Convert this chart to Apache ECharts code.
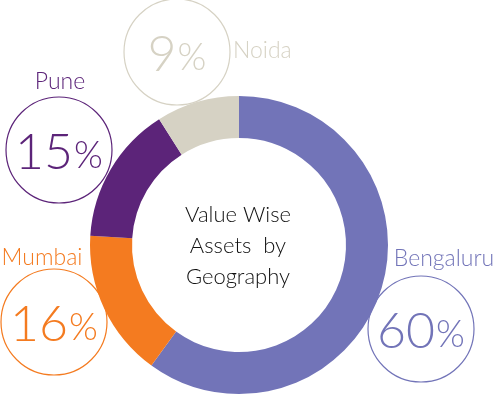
<!DOCTYPE html>
<html><head><meta charset="utf-8">
<script src="https://cdn.jsdelivr.net/npm/echarts@6/dist/echarts.min.js"></script>
<style>html,body{margin:0;padding:0;background:#fff;}#c{width:496px;height:395px;}</style>
</head><body><div id="c"></div>
<script>
const cities = ['Bengaluru', 'Mumbai', 'Pune', 'Noida'];
const shares = [60, 16, 15, 9];
const colors = ['#7274b8', '#f47b20', '#5c2479', '#d6d2c4'];
const centerLines = ['Value Wise', 'Assets  by', 'Geography'];

// label badge layout: circle centre, name position
const badges = [
  {cx: 421, cy: 329, nx: 444, ny: 259, align: 'center'},
  {cx: 54, cy: 322, nx: 42, ny: 258, align: 'center'},
  {cx: 59, cy: 150, nx: 60, ny: 82, align: 'center'},
  {cx: 177, cy: 52, nx: 233, ny: 51, align: 'left'}
];

const chart = echarts.init(document.getElementById('c'), null, {renderer: 'canvas'});
const FONT = 'Lato';
const graphic = [];
cities.forEach((name, i) => {
  const b = badges[i];
  graphic.push({type: 'circle', shape: {cx: b.cx, cy: b.cy, r: 53},
    style: {fill: 'none', stroke: colors[i], lineWidth: 1.2}});
  graphic.push({type: 'text', x: b.cx, y: b.cy + 3,
    style: {
      text: '{d|' + shares[i] + '}{p|%}',
      fill: colors[i],
      align: 'center', verticalAlign: 'middle',
      rich: {
        d: {fontFamily: FONT, fontWeight: 300, fontSize: 50, lineHeight: 50, fill: colors[i], verticalAlign: 'bottom'},
        p: {fontFamily: FONT, fontWeight: 300, fontSize: 37, lineHeight: 37, fill: colors[i], verticalAlign: 'bottom', padding: [0, 0, 3, 1]}
      }
    }});
  graphic.push({type: 'text', x: b.nx, y: b.ny,
    style: {text: name, fill: colors[i], font: '300 23px ' + FONT, align: b.align, verticalAlign: 'middle'}});
});
centerLines.forEach((t, i) => {
  graphic.push({type: 'text', x: 238, y: 215 + i * 31,
    style: {text: t, fill: '#111', font: '300 22px ' + FONT, align: 'center', verticalAlign: 'middle'}});
});

chart.setOption({
  animation: false,
  color: colors,
  series: [{
    type: 'pie',
    center: [239, 245],
    radius: [107, 149],
    startAngle: 90,
    clockwise: true,
    silent: true,
    label: {show: false},
    labelLine: {show: false},
    itemStyle: {borderWidth: 0},
    data: cities.map((n, i) => ({name: n, value: shares[i]}))
  }],
  graphic: graphic
});
</script></body></html>
